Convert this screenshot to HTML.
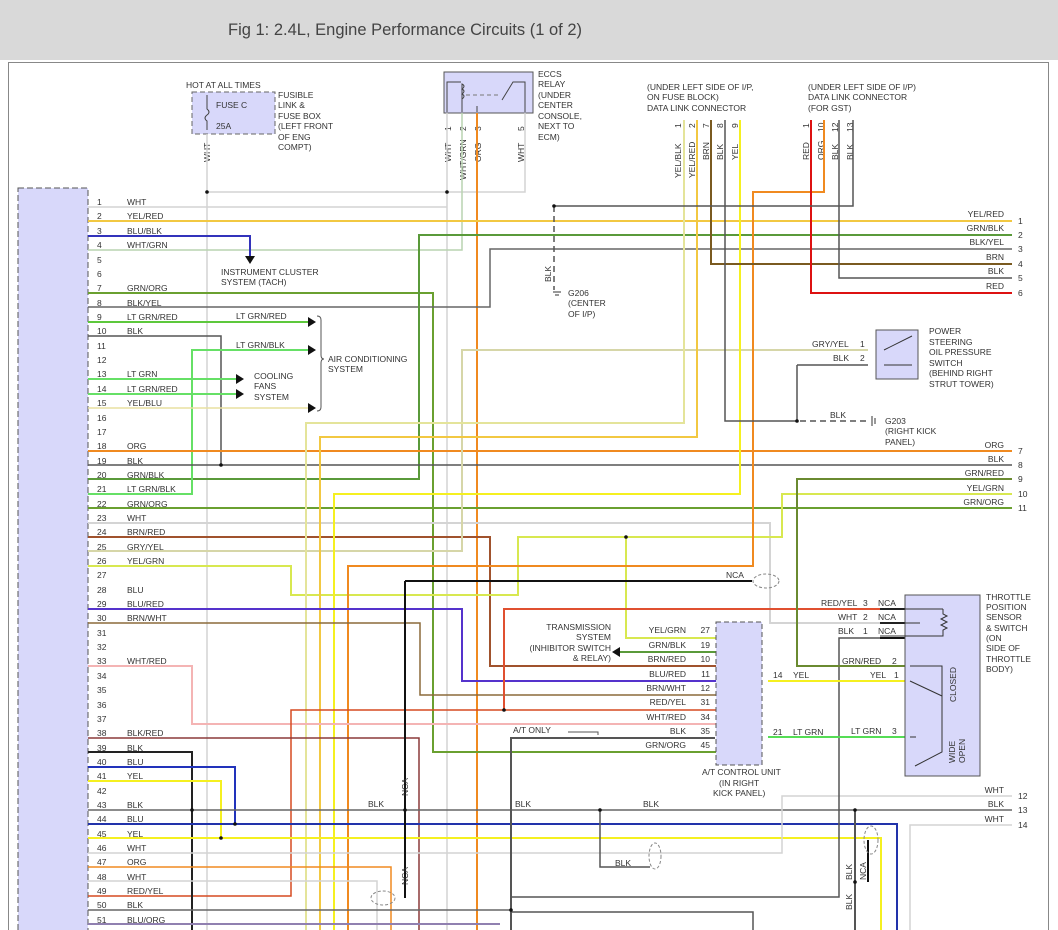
<!DOCTYPE html>
<html><head><meta charset="utf-8"><style>
body{margin:0;background:#fff;width:1058px;height:930px;overflow:hidden;font-family:"Liberation Sans",sans-serif}
.hd{position:absolute;left:0;top:0;width:1058px;height:60px;background:#d9d9d9}
.hd span{position:absolute;left:228px;top:21px;font-size:16.5px;color:#444}
svg{position:absolute;left:0;top:0}
text{font-family:"Liberation Sans",sans-serif;font-size:8.5px;fill:#333}
</style></head><body>
<div class="hd"><span>Fig 1: 2.4L, Engine Performance Circuits (1 of 2)</span></div>
<svg width="1058" height="930" viewBox="0 0 1058 930">
<rect x="8.5" y="62.5" width="1040" height="900" fill="none" stroke="#888"/>
<rect x="18" y="188" width="70" height="760" fill="#d8d8fa" stroke="#555" stroke-dasharray="6,3"/>
<rect x="192" y="92" width="83" height="42" fill="#d8d8fa" stroke="#666" stroke-dasharray="5,3"/>
<path d="M207 95v14q4 3 0 6q-4 3 0 6v9" stroke="#444" fill="none"/>
<text x="216" y="108">FUSE C</text><text x="216" y="129">25A</text>
<text x="186" y="88">HOT AT ALL TIMES</text>
<text x="278" y="98">FUSIBLE</text><text x="278" y="108">LINK &amp;</text><text x="278" y="119">FUSE BOX</text><text x="278" y="129">(LEFT FRONT</text><text x="278" y="140">OF ENG</text><text x="278" y="150">COMPT)</text>
<rect x="444" y="72" width="89" height="41" fill="#d8d8fa" stroke="#555"/>
<path d="M447 112V82h14M462 112V84q4 2 0 5q4 2 0 5q4 2 0 5v13M477 112v-6M525 112V82h-12l-11 18" stroke="#444" fill="none"/>
<line x1="466" y1="95" x2="500" y2="95" stroke="#777" stroke-dasharray="4,3"/>
<text x="538" y="77">ECCS</text><text x="538" y="87">RELAY</text><text x="538" y="98">(UNDER</text><text x="538" y="108">CENTER</text><text x="538" y="119">CONSOLE,</text><text x="538" y="129">NEXT TO</text><text x="538" y="140">ECM)</text>
<text transform="translate(451,131) rotate(-90)">1</text><text transform="translate(466,131) rotate(-90)">2</text><text transform="translate(481,131) rotate(-90)">3</text><text transform="translate(524,131) rotate(-90)">5</text>
<text transform="translate(451,162) rotate(-90)">WHT</text><text transform="translate(466,180) rotate(-90)">WHT/GRN</text><text transform="translate(481,162) rotate(-90)">ORG</text><text transform="translate(524,162) rotate(-90)">WHT</text>
<text transform="translate(210,162) rotate(-90)">WHT</text>
<text x="647" y="90">(UNDER LEFT SIDE OF I/P,</text><text x="647" y="100">ON FUSE BLOCK)</text><text x="647" y="111">DATA LINK CONNECTOR</text>
<text x="808" y="90">(UNDER LEFT SIDE OF I/P)</text><text x="808" y="100">DATA LINK CONNECTOR</text><text x="808" y="111">(FOR GST)</text>
<g>
<text transform="translate(681,128) rotate(-90)">1</text><text transform="translate(695,128) rotate(-90)">2</text><text transform="translate(709,128) rotate(-90)">7</text><text transform="translate(723,128) rotate(-90)">8</text><text transform="translate(738,128) rotate(-90)">9</text>
<text transform="translate(681,178) rotate(-90)">YEL/BLK</text><text transform="translate(695,178) rotate(-90)">YEL/RED</text><text transform="translate(709,160) rotate(-90)">BRN</text><text transform="translate(723,160) rotate(-90)">BLK</text><text transform="translate(738,160) rotate(-90)">YEL</text>
<text transform="translate(809,128) rotate(-90)">1</text><text transform="translate(824,132) rotate(-90)">10</text><text transform="translate(838,132) rotate(-90)">12</text><text transform="translate(853,132) rotate(-90)">13</text>
<text transform="translate(809,160) rotate(-90)">RED</text><text transform="translate(824,160) rotate(-90)">ORG</text><text transform="translate(838,160) rotate(-90)">BLK</text><text transform="translate(853,160) rotate(-90)">BLK</text>
</g>
<g fill="none" stroke-width="1.5">
<path d="M207 134V930" stroke="#d4d4d4"/>
<path d="M207 192H525V113" stroke="#d4d4d4"/>
<path d="M447 113V930" stroke="#d4d4d4"/>
<path d="M88 207H447" stroke="#d4d4d4"/>
<path d="M88 250H462V113" stroke="#b8d4b0"/>
<path d="M477 113V930" stroke="#f08a20" stroke-width="2"/>
<path d="M88 221H1012" stroke="#f2c842" stroke-width="2"/>
<path d="M88 236H250V258" stroke="#3333bb" stroke-width="2"/>
<path d="M88 293H433V752H716" stroke="#6aa030" stroke-width="2"/>
<path d="M88 307H490V249H1012" stroke="#666"/>
<path d="M88 479H419V235H1012" stroke="#5a9a3a" stroke-width="2"/>
<path d="M88 322H308" stroke="#5dc83c" stroke-width="2"/>
<path d="M88 336H221V465" stroke="#555"/>
<path d="M88 494H192V350H308" stroke="#66e066" stroke-width="2"/>
<path d="M88 379H236M88 394H236" stroke="#66e066" stroke-width="2"/>
<path d="M88 408H308" stroke="#e8e0a0"/>
<path d="M88 451H1012" stroke="#f08a20" stroke-width="2"/>
<path d="M88 465H1012" stroke="#555"/>
<path d="M88 508H1012" stroke="#6aa030" stroke-width="2"/>
<path d="M88 523H770V623H880" stroke="#d4d4d4" stroke-width="2"/>
<path d="M88 537H490V666H716" stroke="#a0522d" stroke-width="2"/>
<path d="M88 551H462V350H868" stroke="#d6d6a8" stroke-width="2"/>
<path d="M88 566H291V595H518V537H782V494H1012" stroke="#d8e850" stroke-width="2"/>
<path d="M626 537V638H716" stroke="#d8e850" stroke-width="2"/>
<path d="M306 930V423H684V120" stroke="#e4e49a" stroke-width="2"/>
<path d="M320 930V437H697V120" stroke="#f2c842" stroke-width="2"/>
<path d="M334 930V494H740V120" stroke="#f5f020" stroke-width="2"/>
<path d="M348 930V566H753V192H824V120" stroke="#f08a20" stroke-width="2"/>
<path d="M711 120V264H1012" stroke="#7a5a20" stroke-width="2"/>
<path d="M725 120V421H797" stroke="#555"/>
<path d="M797 365H868M797 365V421" stroke="#555"/>
<path d="M811 120V293H1012" stroke="#dd1111" stroke-width="2"/>
<path d="M839 120V278H1012" stroke="#555"/>
<path d="M853 120V206H554" stroke="#555"/>
<path d="M554 206V290" stroke="#555" stroke-dasharray="6,4"/>
<path d="M800 421H870" stroke="#555" stroke-dasharray="6,4"/>
<path d="M88 609H462V681H716" stroke="#5533cc" stroke-width="2"/>
<path d="M88 623H420V695H716" stroke="#8b6a3a"/>
<path d="M88 666H192V724H716" stroke="#f4b4b4" stroke-width="2"/>
<path d="M88 896H291V710H716" stroke="#d64a20"/>
<path d="M504 710V609H880" stroke="#e05030" stroke-width="2"/>
<path d="M88 738H419V930" stroke="#8b3a3a"/>
<path d="M88 752H192V930" stroke="#222" stroke-width="2"/>
<path d="M88 767H235V824" stroke="#2233bb" stroke-width="2"/>
<path d="M88 781H221V838" stroke="#f5f020" stroke-width="2"/>
<path d="M88 810H1012" stroke="#666"/>
<path d="M88 824H897V930" stroke="#2233aa" stroke-width="2"/>
<path d="M88 838H881V930" stroke="#f5f020" stroke-width="2"/>
<path d="M88 853H782V796H1012" stroke="#d4d4d4"/>
<path d="M88 867H391V930" stroke="#f08a20"/>
<path d="M88 881H377V930" stroke="#d4d4d4"/>
<path d="M88 910H511" stroke="#666"/>
<path d="M88 924H500" stroke="#9080b0" stroke-width="2"/>
<path d="M405 581H752M405 581V898" stroke="#111" stroke-width="2"/>
<path d="M511 930V738H715" stroke="#555" stroke-width="2"/>
<path d="M511 897H839V638H880" stroke="#555"/>
<path d="M511 912H753V930" stroke="#555"/>
<path d="M600 810V867H650" stroke="#555"/>
<path d="M855 810V930" stroke="#555" stroke-width="2"/>
<path d="M868 882V840" stroke="#111" stroke-width="2"/>
<path d="M1012 825H910V930" stroke="#d4d4d4"/>
<path d="M768 681H905" stroke="#f5f020" stroke-width="2"/>
<path d="M768 737H905" stroke="#55dd55" stroke-width="2"/>
<path d="M1012 479H797V666H905" stroke="#6a8a30" stroke-width="2"/>
<path d="M620 652H716" stroke="#5a9a3a" stroke-width="2"/>
<path d="M880 609H905M880 623H905M880 638H905" stroke="#111" stroke-width="2"/>
</g>
<g fill="#111">
<path d="M245 256h10l-5 8z"/>
<path d="M308 317v10l8-5zM308 345v10l8-5zM308 403v10l8-5z"/>
<path d="M236 374v10l8-5zM236 389v10l8-5z"/>
<path d="M620 647v10l-8-5z"/>
<circle cx="207" cy="192" r="1.8"/><circle cx="447" cy="192" r="1.8"/><circle cx="554" cy="206" r="1.8"/>
<circle cx="221" cy="465" r="1.8"/><circle cx="797" cy="421" r="1.8"/><circle cx="626" cy="537" r="1.8"/>
<circle cx="504" cy="710" r="1.8"/><circle cx="192" cy="810" r="1.8"/><circle cx="405" cy="810" r="1.8"/>
<circle cx="600" cy="810" r="1.8"/><circle cx="855" cy="810" r="1.8"/><circle cx="235" cy="824" r="1.8"/>
<circle cx="221" cy="838" r="1.8"/><circle cx="855" cy="882" r="1.8"/><circle cx="511" cy="910" r="1.8"/>
</g>
<path d="M553 292h8M555 295h4" stroke="#333"/>
<path d="M872 416v10M875 418v6" stroke="#333"/>
<g fill="none" stroke="#888" stroke-dasharray="3,2">
<ellipse cx="766" cy="581" rx="13" ry="7"/><ellipse cx="655" cy="856" rx="6" ry="13"/>
<ellipse cx="871" cy="840" rx="7" ry="14"/><ellipse cx="383" cy="898" rx="12" ry="7"/>
</g>
<g>
<text x="97" y="205">1</text><text x="127" y="205">WHT</text>
<text x="97" y="219">2</text><text x="127" y="219">YEL/RED</text>
<text x="97" y="234">3</text><text x="127" y="234">BLU/BLK</text>
<text x="97" y="248">4</text><text x="127" y="248">WHT/GRN</text>
<text x="97" y="263">5</text><text x="97" y="277">6</text>
<text x="97" y="291">7</text><text x="127" y="291">GRN/ORG</text>
<text x="97" y="306">8</text><text x="127" y="306">BLK/YEL</text>
<text x="97" y="320">9</text><text x="127" y="320">LT GRN/RED</text>
<text x="97" y="334">10</text><text x="127" y="334">BLK</text>
<text x="97" y="349">11</text><text x="97" y="363">12</text>
<text x="97" y="377">13</text><text x="127" y="377">LT GRN</text>
<text x="97" y="392">14</text><text x="127" y="392">LT GRN/RED</text>
<text x="97" y="406">15</text><text x="127" y="406">YEL/BLU</text>
<text x="97" y="421">16</text><text x="97" y="435">17</text>
<text x="97" y="449">18</text><text x="127" y="449">ORG</text>
<text x="97" y="464">19</text><text x="127" y="464">BLK</text>
<text x="97" y="478">20</text><text x="127" y="478">GRN/BLK</text>
<text x="97" y="492">21</text><text x="127" y="492">LT GRN/BLK</text>
<text x="97" y="507">22</text><text x="127" y="507">GRN/ORG</text>
<text x="97" y="521">23</text><text x="127" y="521">WHT</text>
<text x="97" y="535">24</text><text x="127" y="535">BRN/RED</text>
<text x="97" y="550">25</text><text x="127" y="550">GRY/YEL</text>
<text x="97" y="564">26</text><text x="127" y="564">YEL/GRN</text>
<text x="97" y="578">27</text>
<text x="97" y="593">28</text><text x="127" y="593">BLU</text>
<text x="97" y="607">29</text><text x="127" y="607">BLU/RED</text>
<text x="97" y="621">30</text><text x="127" y="621">BRN/WHT</text>
<text x="97" y="636">31</text><text x="97" y="650">32</text>
<text x="97" y="664">33</text><text x="127" y="664">WHT/RED</text>
<text x="97" y="679">34</text><text x="97" y="693">35</text><text x="97" y="708">36</text><text x="97" y="722">37</text>
<text x="97" y="736">38</text><text x="127" y="736">BLK/RED</text>
<text x="97" y="751">39</text><text x="127" y="751">BLK</text>
<text x="97" y="765">40</text><text x="127" y="765">BLU</text>
<text x="97" y="779">41</text><text x="127" y="779">YEL</text>
<text x="97" y="794">42</text>
<text x="97" y="808">43</text><text x="127" y="808">BLK</text>
<text x="97" y="822">44</text><text x="127" y="822">BLU</text>
<text x="97" y="837">45</text><text x="127" y="837">YEL</text>
<text x="97" y="851">46</text><text x="127" y="851">WHT</text>
<text x="97" y="865">47</text><text x="127" y="865">ORG</text>
<text x="97" y="880">48</text><text x="127" y="880">WHT</text>
<text x="97" y="894">49</text><text x="127" y="894">RED/YEL</text>
<text x="97" y="908">50</text><text x="127" y="908">BLK</text>
<text x="97" y="923">51</text><text x="127" y="923">BLU/ORG</text>
</g>
<text x="221" y="275">INSTRUMENT CLUSTER</text><text x="221" y="285">SYSTEM (TACH)</text>
<text x="236" y="319">LT GRN/RED</text><text x="236" y="348">LT GRN/BLK</text>
<text x="254" y="379">COOLING</text><text x="254" y="389">FANS</text><text x="254" y="400">SYSTEM</text>
<path d="M317 316q4 0 4 4v35q0 4 3 4q-3 0-3 4v44q0 4-4 4" stroke="#555" fill="none"/>
<text x="328" y="362">AIR CONDITIONING</text><text x="328" y="372">SYSTEM</text>
<text transform="translate(551,282) rotate(-90)">BLK</text>
<text x="568" y="296">G206</text><text x="568" y="306">(CENTER</text><text x="568" y="317">OF I/P)</text>
<g text-anchor="end">
<text x="1004" y="217">YEL/RED</text><text x="1004" y="231">GRN/BLK</text><text x="1004" y="245">BLK/YEL</text><text x="1004" y="260">BRN</text><text x="1004" y="274">BLK</text><text x="1004" y="289">RED</text>
<text x="1004" y="448">ORG</text><text x="1004" y="462">BLK</text><text x="1004" y="476">GRN/RED</text><text x="1004" y="491">YEL/GRN</text><text x="1004" y="505">GRN/ORG</text>
<text x="1004" y="793">WHT</text><text x="1004" y="807">BLK</text><text x="1004" y="822">WHT</text>
</g>
<g>
<text x="1018" y="224">1</text><text x="1018" y="238">2</text><text x="1018" y="252">3</text><text x="1018" y="267">4</text><text x="1018" y="281">5</text><text x="1018" y="296">6</text>
<text x="1018" y="454">7</text><text x="1018" y="468">8</text><text x="1018" y="482">9</text><text x="1018" y="497">10</text><text x="1018" y="511">11</text>
<text x="1018" y="799">12</text><text x="1018" y="813">13</text><text x="1018" y="828">14</text>
</g>
<rect x="876" y="330" width="42" height="49" fill="#d8d8fa" stroke="#555"/>
<path d="M884 350l28-14M884 365h28" stroke="#333"/>
<text x="812" y="347">GRY/YEL</text><text x="860" y="347">1</text><text x="833" y="361">BLK</text><text x="860" y="361">2</text>
<text x="929" y="334">POWER</text><text x="929" y="345">STEERING</text><text x="929" y="355">OIL PRESSURE</text><text x="929" y="366">SWITCH</text><text x="929" y="376">(BEHIND RIGHT</text><text x="929" y="387">STRUT TOWER)</text>
<text x="830" y="418">BLK</text>
<text x="885" y="424">G203</text><text x="885" y="434">(RIGHT KICK</text><text x="885" y="445">PANEL)</text>
<text x="726" y="578">NCA</text>
<rect x="716" y="622" width="46" height="143" fill="#d8d8fa" stroke="#555" stroke-dasharray="5,3"/>
<g text-anchor="end">
<text x="686" y="633">YEL/GRN</text><text x="686" y="648">GRN/BLK</text><text x="686" y="662">BRN/RED</text><text x="686" y="677">BLU/RED</text><text x="686" y="691">BRN/WHT</text><text x="686" y="705">RED/YEL</text><text x="686" y="720">WHT/RED</text><text x="686" y="734">BLK</text><text x="686" y="748">GRN/ORG</text>
<text x="710" y="633">27</text><text x="710" y="648">19</text><text x="710" y="662">10</text><text x="710" y="677">11</text><text x="710" y="691">12</text><text x="710" y="705">31</text><text x="710" y="720">34</text><text x="710" y="734">35</text><text x="710" y="748">45</text>
<text x="611" y="630">TRANSMISSION</text><text x="611" y="640">SYSTEM</text><text x="611" y="651">(INHIBITOR SWITCH</text><text x="611" y="661">&amp; RELAY)</text>
</g>
<text x="513" y="733">A/T ONLY</text><path d="M568 732h30v3" stroke="#555" fill="none"/>
<text x="702" y="775">A/T CONTROL UNIT</text><text x="719" y="786">(IN RIGHT</text><text x="713" y="796">KICK PANEL)</text>
<text x="773" y="678">14</text><text x="793" y="678">YEL</text>
<text x="773" y="735">21</text><text x="793" y="735">LT GRN</text>
<rect x="905" y="595" width="75" height="181" fill="#d8d8fa" stroke="#555"/>
<path d="M880 609H943M880 623H920M943 609v5l4 2-6 3 6 3-6 3 6 3-4 2v6H880" stroke="#333" fill="none"/>
<path d="M910 666h32v86l-27 14M910 681l32 15M910 737h6" stroke="#333" fill="none"/>
<text x="821" y="606">RED/YEL</text><text x="863" y="606">3</text><text x="838" y="620">WHT</text><text x="863" y="620">2</text><text x="838" y="634">BLK</text><text x="863" y="634">1</text>
<text x="878" y="606">NCA</text><text x="878" y="620">NCA</text><text x="878" y="634">NCA</text>
<text x="842" y="664">GRN/RED</text><text x="892" y="664">2</text><text x="870" y="678">YEL</text><text x="894" y="678">1</text><text x="851" y="734">LT GRN</text><text x="892" y="734">3</text>
<text transform="translate(956,702) rotate(-90)">CLOSED</text>
<text transform="translate(955,763) rotate(-90)">WIDE</text><text transform="translate(965,763) rotate(-90)">OPEN</text>
<text x="986" y="600">THROTTLE</text><text x="986" y="610">POSITION</text><text x="986" y="620">SENSOR</text><text x="986" y="631">&amp; SWITCH</text><text x="986" y="641">(ON</text><text x="986" y="651">SIDE OF</text><text x="986" y="662">THROTTLE</text><text x="986" y="672">BODY)</text>
<text x="368" y="807">BLK</text><text x="515" y="807">BLK</text><text x="643" y="807">BLK</text><text x="615" y="866">BLK</text>
<text transform="translate(408,796) rotate(-90)">NCA</text><text transform="translate(408,885) rotate(-90)">NCA</text>
<text transform="translate(852,880) rotate(-90)">BLK</text><text transform="translate(866,880) rotate(-90)">NCA</text><text transform="translate(852,910) rotate(-90)">BLK</text>
</svg>
</body></html>
